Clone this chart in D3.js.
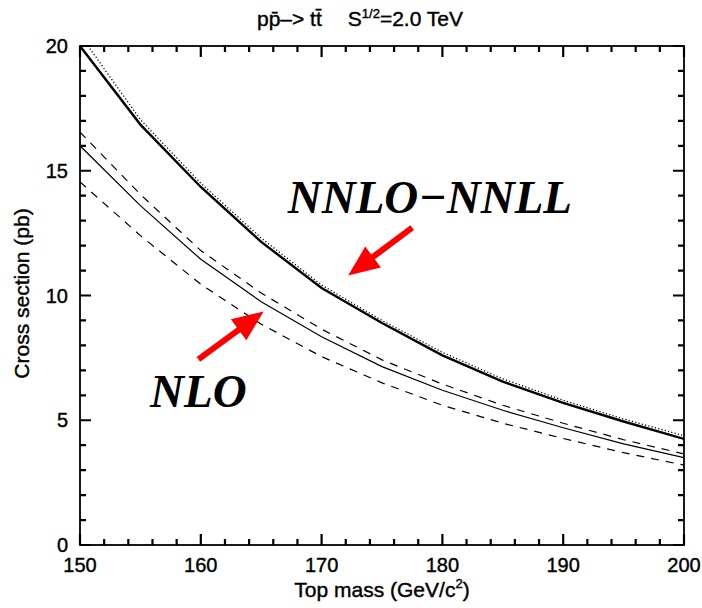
<!DOCTYPE html>
<html>
<head>
<meta charset="utf-8">
<script src="https://cdn.jsdelivr.net/npm/d3@7"></script>
<style>
  html, body { margin: 0; padding: 0; background: #fff; }
  svg { display: block; }
  text.sans { font-family: "Liberation Sans", Arial, Helvetica, sans-serif; fill: #000; stroke: #000; stroke-width: 0.4px; }
</style>
</head>
<body>
<script>
// Top-quark mass grid (GeV/c^2)
const mass = [150, 155, 160, 165, 170, 175, 180, 185, 190, 195, 200];
// NNLO-NNLL cross section (pb), central and dotted variant
const nnloNnll       = [20.0, 16.85, 14.35, 12.15, 10.3, 8.9, 7.6, 6.55, 5.7, 4.95, 4.25];
const nnloNnllDotted = [20.45, 17.05, 14.5, 12.3, 10.42, 9.0, 7.72, 6.66, 5.8, 5.05, 4.38];
// NLO cross section (pb): central and scale band
const nloCentral = [16.0, 13.6, 11.45, 9.75, 8.35, 7.15, 6.2, 5.4, 4.7, 4.05, 3.5];
const nloUpper   = [16.55, 14.05, 11.8, 10.1, 8.65, 7.42, 6.45, 5.6, 4.88, 4.22, 3.65];
const nloLower   = [14.55, 12.4, 10.45, 8.85, 7.55, 6.5, 5.6, 4.88, 4.27, 3.7, 3.2];
// Axis ticks
const xMajor = [150, 160, 170, 180, 190, 200];
const xMinor = [152, 154, 156, 158, 162, 164, 166, 168, 172, 174, 176, 178,
                182, 184, 186, 188, 192, 194, 196, 198];
const yMajor = [0, 5, 10, 15, 20];
const yMinor = [1, 2, 3, 4, 6, 7, 8, 9, 11, 12, 13, 14, 16, 17, 18, 19];
// Annotations (data coordinates)
const labels = [
  { text: "NNLO\u2212NNLL", m: 167.2, v: 13.32 },
  { text: "NLO", m: 155.8, v: 5.52 }
];
const arrows = [
  { from: [177.5, 12.72], to: [172.2, 10.8] },
  { from: [159.8, 7.44], to: [165.2, 9.36] }
];

const W = 702, H = 608;
const pL = 80, pR = 684, pT = 46, pB = 545;

const x = d3.scaleLinear().domain([150, 200]).range([pL, pR]);
const y = d3.scaleLinear().domain([0, 20]).range([pB, pT]);

const svg = d3.select("body").append("svg")
  .attr("xmlns", "http://www.w3.org/2000/svg")
  .attr("width", W).attr("height", H);

svg.append("defs").append("clipPath").attr("id", "plot")
  .append("rect").attr("x", pL).attr("y", pT)
  .attr("width", pR - pL).attr("height", pB - pT);

// Tick labels
svg.selectAll("text.xtick").data(xMajor).enter().append("text")
  .attr("class", "sans xtick")
  .attr("x", d => x(d)).attr("y", pB + 27)
  .attr("text-anchor", "middle").style("font-size", "20px")
  .text(d3.format("d"));
svg.selectAll("text.ytick").data(yMajor).enter().append("text")
  .attr("class", "sans ytick")
  .attr("x", pL - 12).attr("y", d => y(d)).attr("dy", "0.35em")
  .attr("text-anchor", "end").style("font-size", "20px")
  .text(d3.format("d"));

// Curves
const line = d3.line().x((d, i) => x(mass[i])).y(d => y(d));
const curves = [
  { data: nnloNnllDotted, width: 1.3, dash: "1.2,2.2" },
  { data: nnloNnll, width: 2.4, dash: null },
  { data: nloUpper, width: 1.2, dash: "8,7" },
  { data: nloCentral, width: 1.2, dash: null },
  { data: nloLower, width: 1.2, dash: "8,7" }
];
const cg = svg.append("g").attr("clip-path", "url(#plot)");
curves.forEach(c => {
  cg.append("path").attr("d", line(c.data))
    .attr("fill", "none").attr("stroke", "#000")
    .attr("stroke-width", c.width)
    .attr("stroke-dasharray", c.dash);
});

// Red arrows
const headLen = 31, headHalf = 13, shaftHalf = 3;
arrows.forEach(a => {
  const x0 = x(a.from[0]), y0 = y(a.from[1]);
  const x1 = x(a.to[0]), y1 = y(a.to[1]);
  const L = Math.hypot(x1 - x0, y1 - y0);
  const ux = (x1 - x0) / L, uy = (y1 - y0) / L;
  const nx = -uy, ny = ux;
  const bx = x1 - ux * headLen, by = y1 - uy * headLen;
  const pts = [
    [x0 + nx * shaftHalf, y0 + ny * shaftHalf],
    [bx + nx * shaftHalf, by + ny * shaftHalf],
    [bx + nx * headHalf, by + ny * headHalf],
    [x1, y1],
    [bx - nx * headHalf, by - ny * headHalf],
    [bx - nx * shaftHalf, by - ny * shaftHalf],
    [x0 - nx * shaftHalf, y0 - ny * shaftHalf]
  ];
  svg.append("polygon").attr("points", pts.map(p => p.join(",")).join(" "))
    .attr("fill", "#ff0000");
});

// Curve labels
labels.forEach(l => {
  svg.append("text").attr("x", x(l.m)).attr("y", y(l.v))
    .style("font-family", "'Liberation Serif', 'Times New Roman', serif")
    .style("font-weight", "bold").style("font-style", "italic")
    .style("font-size", "47px")
    .text(l.text);
});

// Title
const title = svg.append("text").attr("class", "sans").attr("x", 360).attr("y", 26)
  .attr("text-anchor", "middle").style("font-size", "21px");
title.append("tspan").text("pp\u0304\u2013> tt\u0304");
title.append("tspan").attr("dx", 26).text("S");
title.append("tspan").attr("dy", -8).style("font-size", "13px").text("1/2");
title.append("tspan").attr("dy", 8).text("=2.0 TeV");

// Axis titles
const xt = svg.append("text").attr("class", "sans").attr("x", (pL + pR) / 2).attr("y", 597)
  .attr("text-anchor", "middle").style("font-size", "21px");
xt.append("tspan").text("Top mass (GeV/c");
xt.append("tspan").attr("dy", -9).style("font-size", "13px").text("2");
xt.append("tspan").attr("dy", 9).text(")");

svg.append("text").attr("class", "sans")
  .attr("transform", `translate(29,${(pT + pB) / 2 - 2}) rotate(-90)`)
  .attr("text-anchor", "middle").style("font-size", "21px")
  .text("Cross section (pb)");

// Frame and inward tick marks, drawn last so nothing covers them
const axisG = svg.append("g").attr("stroke", "#000").attr("fill", "none");
axisG.append("rect").attr("x", pL).attr("y", pT)
  .attr("width", pR - pL).attr("height", pB - pT).attr("stroke-width", 1.8);
const xTicks = xMajor.map(v => ({ v, len: 11 })).concat(xMinor.map(v => ({ v, len: 6 })));
const yTicks = yMajor.map(v => ({ v, len: 11 })).concat(yMinor.map(v => ({ v, len: 6 })));
axisG.selectAll("path.xt").data(xTicks).enter().append("path").attr("class", "xt")
  .attr("stroke-width", 2.2)
  .attr("d", d => `M${x(d.v)},${pB}V${pB - d.len}M${x(d.v)},${pT}V${pT + d.len}`);
axisG.selectAll("path.yt").data(yTicks).enter().append("path").attr("class", "yt")
  .attr("stroke-width", 2.2)
  .attr("d", d => `M${pL},${y(d.v)}H${pL + d.len}M${pR},${y(d.v)}H${pR - d.len}`);
</script>
</body>
</html>
